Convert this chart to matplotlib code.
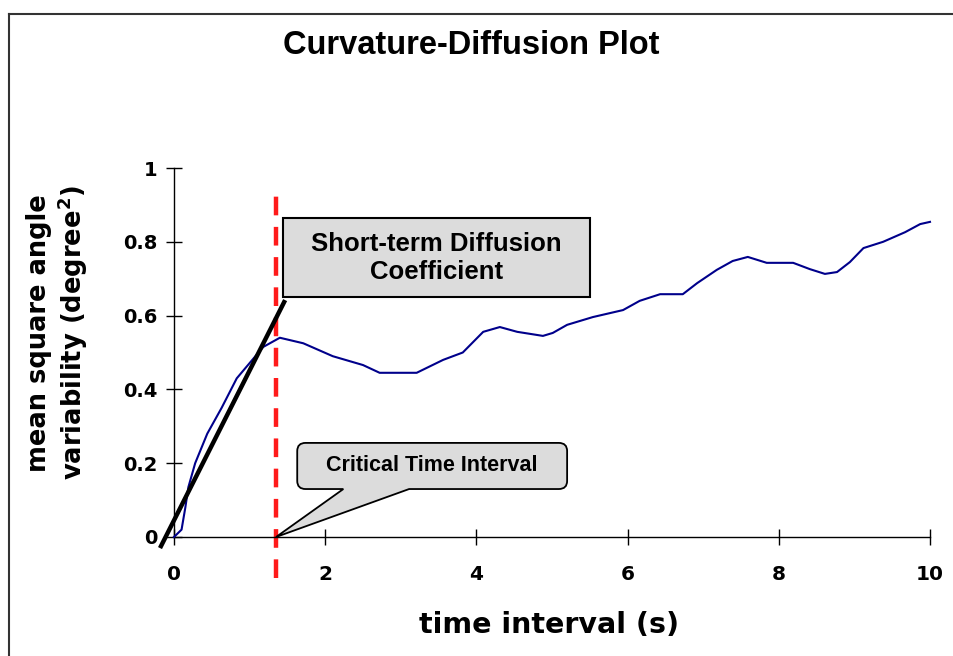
import matplotlib
matplotlib.use("Agg")
import matplotlib.pyplot as plt
from matplotlib.path import Path
from matplotlib.patches import PathPatch, Rectangle
from matplotlib.lines import Line2D

# ---- data ----
time_s = [0.0, 0.10, 0.15, 0.19, 0.28, 0.44, 0.63, 0.83, 1.18, 1.40, 1.71, 2.10,
          2.50, 2.72, 3.21, 3.56, 3.82, 4.09, 4.31, 4.54, 4.88, 5.01, 5.20, 5.54,
          5.94, 6.16, 6.43, 6.73, 6.92, 7.18, 7.39, 7.59, 7.84, 8.19, 8.41, 8.61,
          8.77, 8.94, 9.12, 9.38, 9.67, 9.87, 10.0]
msd = [0.0, 0.02, 0.08, 0.135, 0.20, 0.28, 0.35, 0.43, 0.515, 0.54, 0.525, 0.49,
       0.466, 0.445, 0.445, 0.48, 0.50, 0.556, 0.569, 0.556, 0.545, 0.553, 0.575, 0.596,
       0.615, 0.64, 0.658, 0.658, 0.688, 0.724, 0.748, 0.759, 0.743, 0.743, 0.726, 0.713,
       0.718, 0.745, 0.783, 0.80, 0.826, 0.848, 0.854]
fit_x = [-0.185, 1.47]
fit_y = [-0.03, 0.642]
critical_t = 1.35
x_ticks = [0, 2, 4, 6, 8, 10]
y_ticks = [0, 0.2, 0.4, 0.6, 0.8, 1]
y_tick_labels = ["0", "0.2", "0.4", "0.6", "0.8", "1"]

W, H = 954, 656
fig = plt.figure(figsize=(W / 100, H / 100), dpi=100)
fig.patch.set_facecolor("white")

ax = fig.add_axes([174 / W, (H - 537) / H, 756 / W, 369 / H])
ax.set_xlim(0, 10)
ax.set_ylim(0, 1)
for s in ["top", "right"]:
    ax.spines[s].set_visible(False)
for s in ["left", "bottom"]:
    ax.spines[s].set_linewidth(1.0)
    ax.spines[s].set_color("black")

ax.set_xticks(x_ticks)
ax.set_xticklabels([str(v) for v in x_ticks])
ax.set_yticks(y_ticks)
ax.set_yticklabels(y_tick_labels)
ax.tick_params(axis="x", direction="inout", length=11, width=1, pad=15,
               labelsize=14.5)
ax.tick_params(axis="y", direction="inout", length=12, width=1, pad=6,
               labelsize=14)
for lab in ax.get_xticklabels() + ax.get_yticklabels():
    lab.set_fontweight("bold")
    lab.set_family("DejaVu Sans")

# curve
ax.plot(time_s, msd, color="#00008b", lw=1.5, zorder=3, clip_on=False)
# fitted line
ax.plot(fit_x, fit_y, color="black", lw=3.2, zorder=4, clip_on=False,
        solid_capstyle="butt")
# critical time dashed line
ax.plot([critical_t, critical_t], [-0.11, 0.94], color="#ff1a1a", lw=3.2,
        dashes=(4.2, 2.6), zorder=2, clip_on=False)

# Short-term Diffusion box
bx0, bx1, by0, by1 = 1.44, 5.50, 0.650, 0.864
ax.add_patch(Rectangle((bx0, by0), bx1 - bx0, by1 - by0, facecolor="#dcdcdc",
                       edgecolor="black", lw=1.5, zorder=5, clip_on=False))
ax.text((bx0 + bx1) / 2, (by0 + by1) / 2, "Short-term Diffusion\nCoefficient",
        ha="center", va="center", fontsize=18.5, fontweight="bold",
        family="Liberation Sans", linespacing=1.2, zorder=6)

# Critical Time Interval callout
x0, x1, y0, y1 = 1.63, 5.20, 0.130, 0.255
px0, px1 = 2.24, 3.11
rx, ry = 0.11, 0.022
verts = [(px0, y0), (critical_t, 0.0), (px1, y0), (x1 - rx, y0),
         (x1, y0), (x1, y0 + ry), (x1, y1 - ry), (x1, y1), (x1 - rx, y1),
         (x0 + rx, y1), (x0, y1), (x0, y1 - ry), (x0, y0 + ry), (x0, y0),
         (x0 + rx, y0), (px0, y0)]
codes = [Path.MOVETO, Path.LINETO, Path.LINETO, Path.LINETO,
         Path.CURVE3, Path.CURVE3, Path.LINETO, Path.CURVE3, Path.CURVE3,
         Path.LINETO, Path.CURVE3, Path.CURVE3, Path.LINETO, Path.CURVE3,
         Path.CURVE3, Path.CLOSEPOLY]
ax.add_patch(PathPatch(Path(verts, codes), facecolor="#dcdcdc",
                       edgecolor="black", lw=1.3, zorder=5, clip_on=False))
ax.text((x0 + x1) / 2, (y0 + y1) / 2, "Critical Time Interval",
        ha="center", va="center", fontsize=15.5, fontweight="bold",
        family="Liberation Sans", zorder=6)

# labels
fig.text(549 / W, 1 - 625 / H, "time interval (s)", ha="center", va="center",
         fontsize=20.5, fontweight="bold", family="DejaVu Sans")
fig.text(58 / W, 1 - 333 / H, "mean square angle\nvariability (degree$^\\mathbf{2}$)",
         ha="center", va="center", rotation=90, fontsize=18.5, fontweight="bold",
         family="DejaVu Sans", linespacing=1.1)
fig.text(471 / W, 1 - 45 / H, "Curvature-Diffusion Plot", ha="center",
         va="center", fontsize=23.5, fontweight="bold", family="Liberation Sans")

# frame lines
fig.add_artist(Line2D([9 / W, 9 / W], [0, 1 - 14 / H], color="#333333", lw=1.5,
                      transform=fig.transFigure))
fig.add_artist(Line2D([9 / W, 1], [1 - 14 / H, 1 - 14 / H], color="#333333",
                      lw=1.5, transform=fig.transFigure))

fig.savefig("out.png", dpi=100, facecolor="white")
